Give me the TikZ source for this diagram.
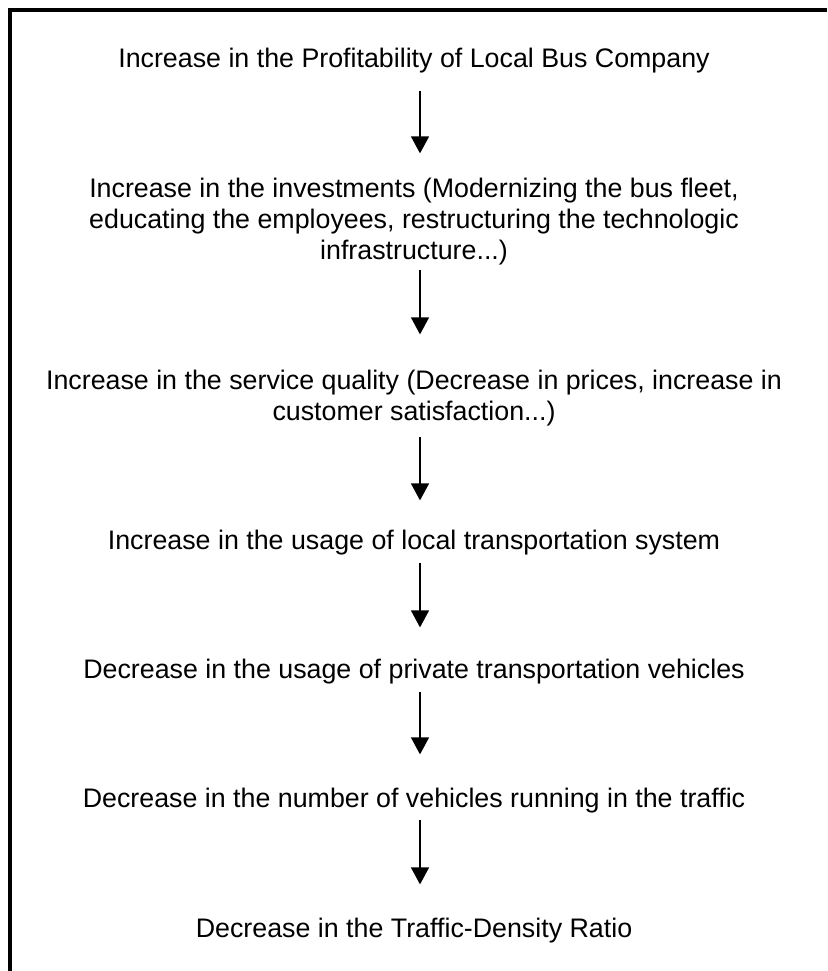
\documentclass[tikz,border=0pt]{standalone}
\usepackage{fontspec}
\setmainfont{Liberation Sans}
\usetikzlibrary{arrows.meta}

\tikzset{
  stage/.style={inner sep=0pt, align=center, anchor=base,
    font=\fontsize{26.8}{31}\selectfont},
  flow/.style={line width=1.3pt, -{Triangle[width=18pt,length=17pt]},
    shorten <=8pt, shorten >=33pt},
}

\begin{document}
\begin{tikzpicture}[x=1pt,y=-1pt]
	\useasboundingbox (0,0) rectangle (827,971);
	% frame round the chain
	\draw[line width=4pt] (827,10) -| (10,971);
	%
	% base of a multi-line stage is its last line
	\node[stage] (profit) at (414,68) {Increase in the Profitability of Local Bus Company};
	\node[stage] (invest) at (414,259) {Increase in the investments (Modernizing the bus fleet,\\
		educating the employees, restructuring the technologic\\ infrastructure...)};
	\node[stage] (quality) at (414,420) {Increase in the service quality (Decrease in prices, increase in\\
		customer satisfaction...)};
	\node[stage] (usage) at (414,549) {Increase in the usage of local transportation system};
	\node[stage] (private) at (414,678) {Decrease in the usage of private transportation vehicles};
	\node[stage] (vehicles) at (414,807) {Decrease in the number of vehicles running in the traffic};
	\node[stage] (density) at (414,937) {Decrease in the Traffic-Density Ratio};
	%
	\draw[flow, shorten <=17pt, shorten >=24pt] ([xshift=6pt]profit.south) -- ([xshift=6pt]invest.north);
	\draw[flow, shorten <=5pt, shorten >=35pt] ([xshift=6pt]invest.south) -- ([xshift=6pt]quality.north);
	\draw[flow, shorten <=11pt, shorten >=29pt] ([xshift=6pt]quality.south) -- ([xshift=6pt]usage.north);
	\draw[flow, shorten >=31pt] ([xshift=6pt]usage.south) -- ([xshift=6pt]private.north);
	\draw[flow] ([xshift=6pt]private.south) -- ([xshift=6pt]vehicles.north);
	\draw[flow, shorten <=7pt] ([xshift=6pt]vehicles.south) -- ([xshift=6pt]density.north);
\end{tikzpicture}
\end{document}
